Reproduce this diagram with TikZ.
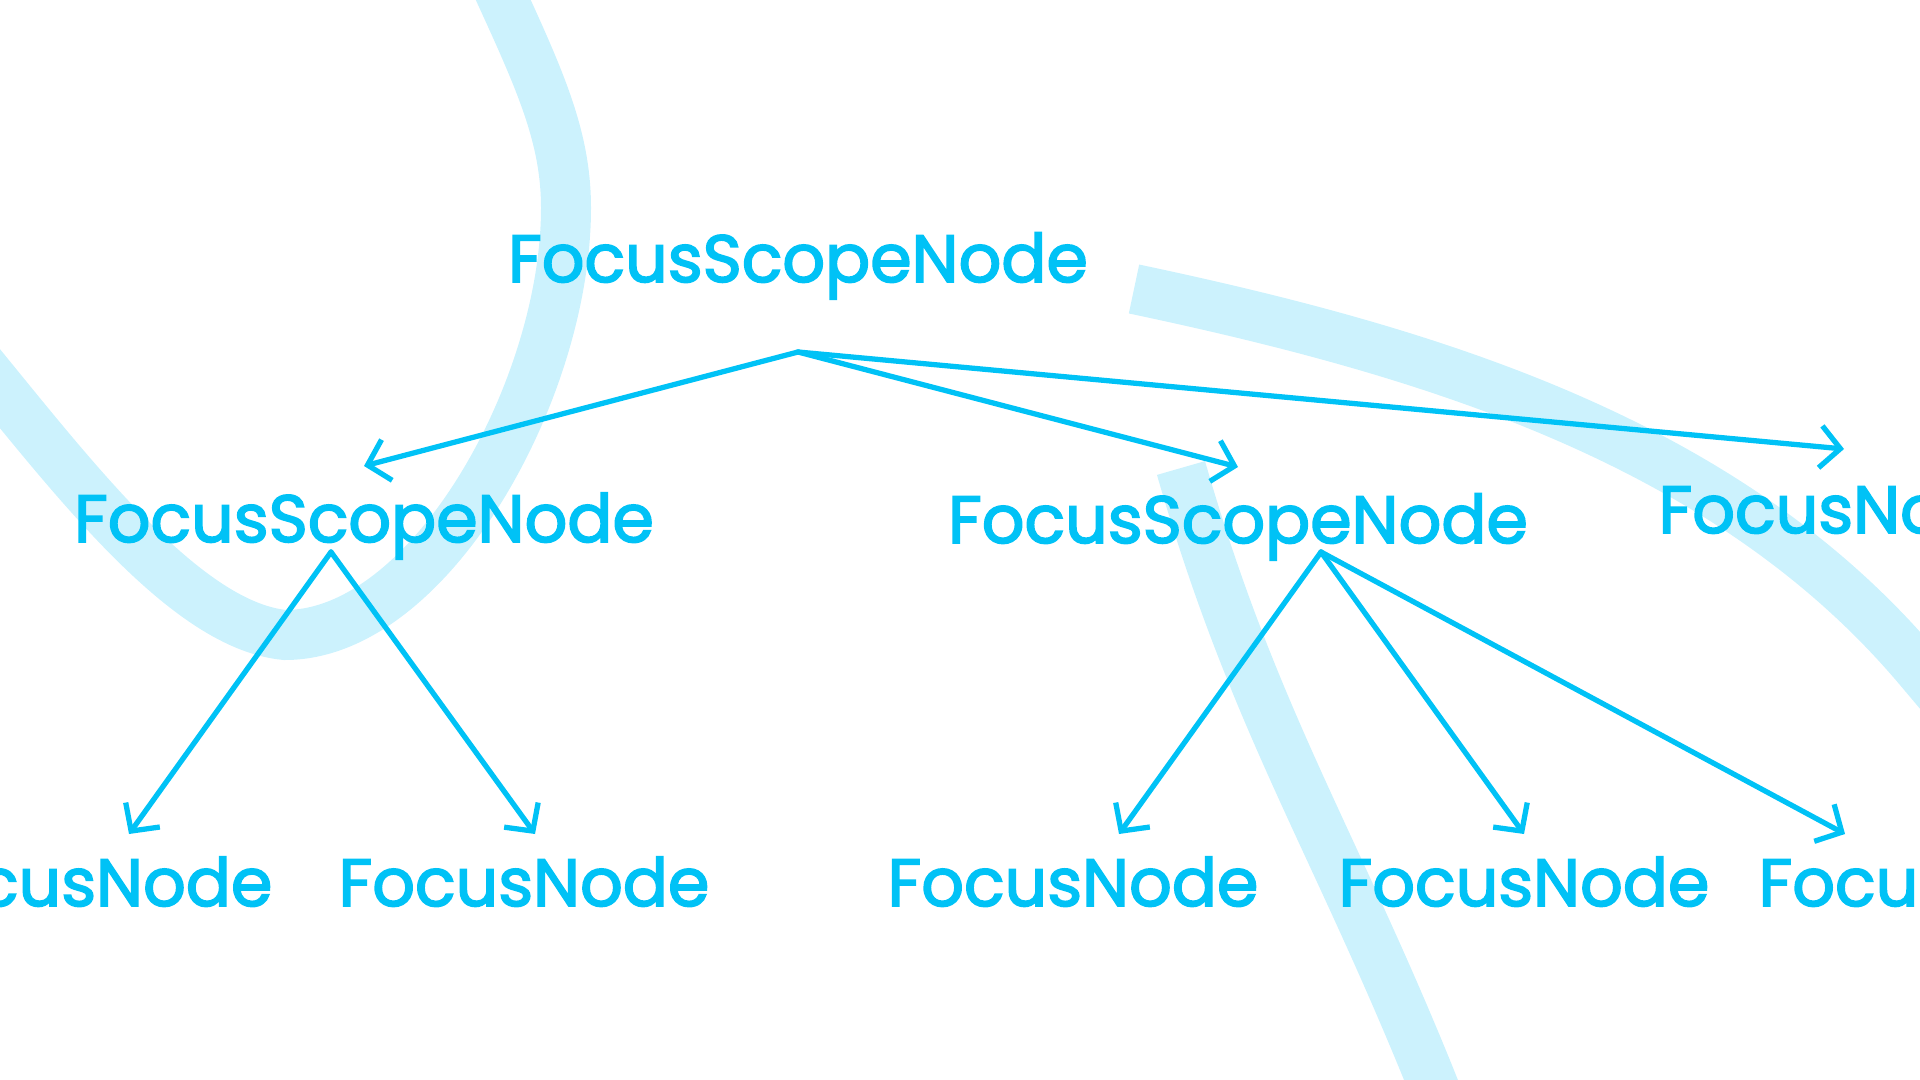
\documentclass[tikz,border=0pt]{standalone}
\usepackage{fontspec}
\setmainfont{Poppins}[FakeBold=2.5]
\usetikzlibrary{arrows.meta}
\definecolor{focuscyan}{RGB}{0, 194, 246}
\definecolor{focusband}{RGB}{204, 242, 253}

\begin{document}
\begin{tikzpicture}[
    treetext/.style={
        anchor=base,
        inner sep=0pt,
        text=focuscyan,
        font=\fontsize{19}{23}\selectfont
    },
    link/.style={
        -{Straight Barb[length=2mm, width=4.2mm]},
        line width=1.5pt,
        line cap=round,
        line join=round,
        focuscyan
    },
    band/.style={
        line width=5mm,
        focusband
    }
]

% Canvas
\useasboundingbox (0,0) rectangle (19.2,-10.8);
\clip (0,0) rectangle (19.2,-10.8);

% Background bands
\draw[band] (4.85,0.4) .. controls (5.35,-0.7) and (5.66,-1.3) .. (5.66,-2.08)
    .. controls (5.66,-3.9) and (4.3,-6.35) .. (2.85,-6.35)
    .. controls (1.8,-6.25) and (0.6,-4.6) .. (-0.4,-3.4);
\draw[band] (11.34,-2.89) .. controls (14.27,-3.51) and (17.27,-4.4) .. (19.2,-6.7) -- (19.9,-7.53);
\draw[band] (11.81,-4.68) to[out=-74, in=112] (14.31,-10.8) -- (14.55,-11.4);

% Root
\node[treetext] (root) at (7.98,-2.82) {FocusScopeNode};

% Second level
\node[treetext] (scopeleft) at (3.64,-5.42) {FocusScopeNode};
\node[treetext] (scopemid) at (12.38,-5.43) {FocusScopeNode};
\node[treetext] (focustop) at (18.44,-5.33) {FocusNode};

% Leaves
\node[treetext] (leafa) at (0.87,-9.06) {FocusNode};
\node[treetext] (leafb) at (5.24,-9.06) {FocusNode};
\node[treetext] (leafc) at (10.73,-9.06) {FocusNode};
\node[treetext] (leafd) at (15.24,-9.06) {FocusNode};
\node[treetext] (leafe) at (19.44,-9.06) {FocusNode};

% Arrows
\coordinate (roothub) at ([yshift=-7mm]root.base);
\draw[link] (roothub) -- ([yshift=7.6mm]scopeleft.base);
\draw[link] (roothub) -- ([yshift=7.6mm]scopemid.base);
\draw[link] (roothub) -- ([yshift=8.4mm]focustop.base);

\coordinate (lefthub) at ([xshift=-3.3mm, yshift=-1mm]scopeleft.base);
\draw[link] (lefthub) -- ([xshift=4.2mm, yshift=7.2mm]leafa.base);
\draw[link] (lefthub) -- ([xshift=1.1mm, yshift=7.2mm]leafb.base);

\coordinate (midhub) at ([xshift=8.3mm, yshift=-0.9mm]scopemid.base);
\draw[link] (midhub) -- ([xshift=4.6mm, yshift=7.2mm]leafc.base);
\draw[link] (midhub) -- ([yshift=7.2mm]leafd.base);
\draw[link] (midhub) -- ([xshift=-9.9mm, yshift=7.2mm]leafe.base);

\end{tikzpicture}
\end{document}
